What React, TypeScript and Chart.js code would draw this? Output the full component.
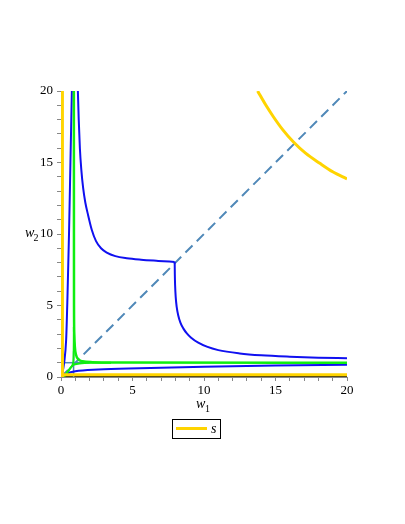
import React, { useEffect, useRef } from 'react';
import { Chart, registerables } from 'chart.js';
Chart.register(...registerables);

type P = [number, number];

const xTickValues = [0, 5, 10, 15, 20];
const yTickValues = [0, 5, 10, 15, 20];

const diagonal: P[] = [[0, 0], [20, 20]];

const blueLeft: P[] = [[0, 0], [0.1, 0.3], [0.22, 1], [0.36, 2.6], [0.45, 5.5], [0.56, 10], [0.66, 15], [0.76, 20]];
const blueLower: P[] = [[0, 0], [0.3, 0.2], [1, 0.4], [2.6, 0.53], [5.5, 0.62], [10, 0.72], [15, 0.8], [20, 0.86]];
const blueUpper: P[] = [
  [1.18, 20], [1.24, 18], [1.32, 16], [1.42, 14.5], [1.55, 13.2], [1.7, 12.2], [1.9, 11.3],
  [2.15, 10.3], [2.45, 9.5], [2.8, 9.0], [3.2, 8.7], [3.8, 8.45], [4.6, 8.3], [5.6, 8.2],
  [6.8, 8.12], [7.95, 8.05],
];
const blueRight: P[] = [
  [7.95, 8.05], [7.96, 7.2], [7.98, 6.4], [8.02, 5.6], [8.09, 4.9], [8.2, 4.3], [8.35, 3.8],
  [8.55, 3.4], [8.8, 3.05], [9.1, 2.75], [9.6, 2.4], [10.2, 2.12], [11, 1.88], [12.5, 1.65],
  [14, 1.52], [16, 1.42], [18, 1.35], [20, 1.31],
];

const steelH: P[] = [[0, 1.0], [2.0, 1.0]];
const steelV: P[] = [[0.88, 0], [0.88, 1.8]];

const greenMain: P[] = [[0.9, 20], [0.905, 10], [0.91, 5], [0.93, 3], [0.97, 2.1], [1.05, 1.55], [1.2, 1.25], [1.5, 1.1], [2.2, 1.04], [4, 1.02], [20, 1.0]];
const greenToVertical: P[] = [[0.2, 0], [0.45, 0.35], [0.7, 0.68], [0.84, 0.95], [0.88, 1.4], [0.895, 2.4], [0.9, 3.5]];
const greenToHorizontal: P[] = [[0.3, 0.12], [0.6, 0.55], [0.85, 0.84], [1.3, 0.94], [2.2, 0.99], [3.5, 1.0]];

const yellowV: P[] = [[0.1, 0], [0.1, 20]];
const yellowH: P[] = [[0, 0.15], [20, 0.15]];
const yellowCurve: P[] = [[13.75, 20], [14.3, 19.05], [14.85, 18.2], [15.5, 17.3], [16.24, 16.45], [17.1, 15.65], [18.1, 14.94], [19, 14.35], [20, 13.85]];

const blackV: P[] = [[0, 0], [0, 20]];
const blackH: P[] = [[0, 0], [20, 0]];

const BLUE = '#1010f0';
const GREEN = '#10ee10';
const GOLD = '#ffd400';
const STEEL = '#4f88b8';
const SERIF = '"Liberation Serif", "Times New Roman", serif';

const toXY = (arr: P[]) => arr.map(([x, y]) => ({ x, y }));

const ds = (data: P[], color: string, width: number, order: number, extra: any = {}) => ({
  data: toXY(data),
  borderColor: color,
  backgroundColor: color,
  borderWidth: width,
  showLine: true,
  pointRadius: 0,
  fill: false,
  cubicInterpolationMode: 'monotone',
  borderJoinStyle: 'round',
  order,
  ...extra,
});

const overlay = {
  id: 'overlay',
  afterDraw(chart: any) {
    const ctx = chart.ctx;
    ctx.save();
    ctx.fillStyle = '#000';
    ctx.textBaseline = 'alphabetic';
    ctx.textAlign = 'left';
    // x title w1
    ctx.font = `italic 14px ${SERIF}`;
    ctx.fillText('w', 196, 408);
    ctx.font = `10px ${SERIF}`;
    ctx.fillText('1', 205, 412);
    // y title w2
    ctx.font = `italic 14px ${SERIF}`;
    ctx.fillText('w', 25, 237);
    ctx.font = `10px ${SERIF}`;
    ctx.fillText('2', 33.5, 241);
    // legend
    ctx.strokeStyle = '#000';
    ctx.lineWidth = 1;
    ctx.strokeRect(172.5, 419.5, 48, 19);
    ctx.strokeStyle = GOLD;
    ctx.lineWidth = 3;
    ctx.beginPath();
    ctx.moveTo(176, 428.5);
    ctx.lineTo(207, 428.5);
    ctx.stroke();
    ctx.fillStyle = '#000';
    ctx.font = `italic 14px ${SERIF}`;
    ctx.fillText('s', 211, 433);
    ctx.restore();
  },
};

export default function App() {
  const ref = useRef<HTMLCanvasElement | null>(null);
  useEffect(() => {
    document.body.style.margin = '0';
    const canvas = ref.current!;
    const tickCb = (vals: number[]) => (v: any) => (vals.includes(Number(v)) ? String(v) : '');
    const chart = new Chart(canvas, {
      type: 'scatter',
      data: {
        datasets: [
          ds(blackV, '#2a2410', 2, 20),
          ds(blackH, '#2a2410', 2, 20),
          ds(steelH, STEEL, 1.5, 18),
          ds(steelV, STEEL, 1.5, 18),
          ds(diagonal, STEEL, 2, 17, { borderDash: [10, 6] }),
          ds(blueLeft, BLUE, 2, 12),
          ds(blueLower, BLUE, 2, 12),
          ds(blueUpper, BLUE, 2, 12),
          ds(blueRight, BLUE, 2, 12),
          ds(greenToVertical, GREEN, 2, 10),
          ds(greenToHorizontal, GREEN, 2, 10),
          ds(greenMain, GREEN, 2.5, 9),
          ds(yellowV, GOLD, 3, 5),
          ds(yellowH, GOLD, 3, 5),
          ds(yellowCurve, GOLD, 3, 5, { label: 's' }),
        ],
      },
      options: {
        animation: false,
        responsive: false,
        maintainAspectRatio: false,
        layout: { padding: { top: 91, right: 58, left: 0, bottom: 117 } },
        plugins: { legend: { display: false }, tooltip: { enabled: false } },
        scales: {
          x: {
            type: 'linear',
            min: 0,
            max: 20,
            afterFit: (s: any) => { s.height = 30; },
            border: { color: '#888', width: 1 },
            grid: { drawOnChartArea: false, drawTicks: true, tickLength: 4, color: '#888' },
            ticks: {
              stepSize: 1,
              autoSkip: false,
              maxRotation: 0,
              padding: 2,
              color: '#000',
              font: { family: SERIF, size: 13 },
              callback: tickCb(xTickValues),
            },
          },
          y: {
            type: 'linear',
            min: 0,
            max: 20,
            afterFit: (s: any) => { s.width = 61; },
            border: { color: '#888', width: 1 },
            grid: { drawOnChartArea: false, drawTicks: true, tickLength: 4, color: '#888' },
            ticks: {
              stepSize: 1,
              autoSkip: false,
              padding: 4,
              color: '#000',
              font: { family: SERIF, size: 13 },
              callback: tickCb(yTickValues),
            },
          },
        },
      } as any,
      plugins: [overlay],
    });
    return () => chart.destroy();
  }, []);
  return <canvas ref={ref} width={405} height={524} style={{ display: 'block' }} />;
}
